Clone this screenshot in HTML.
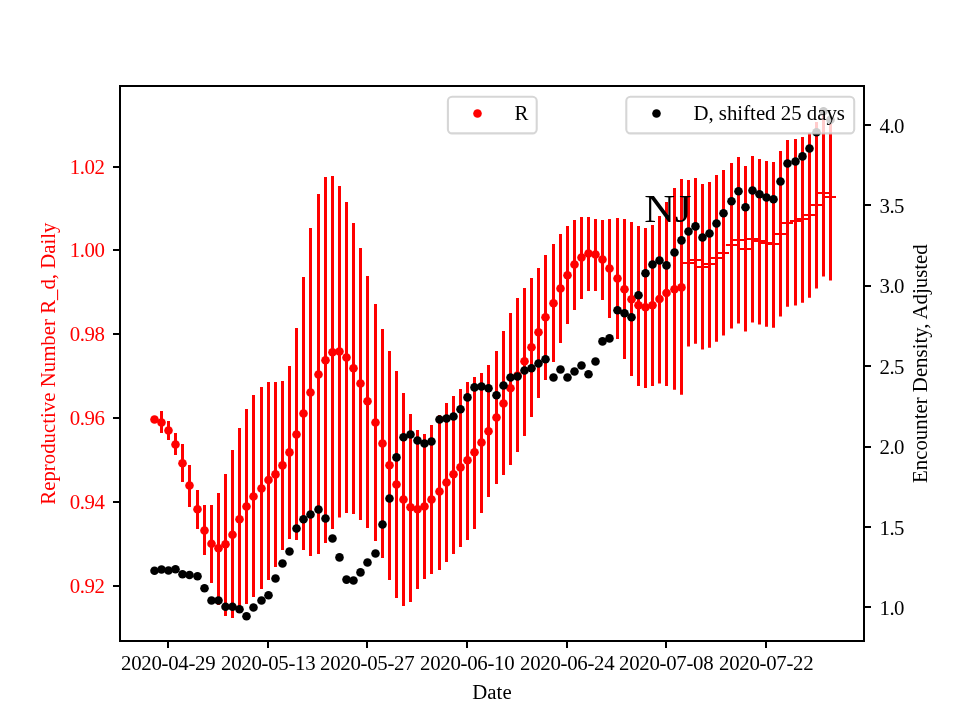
<!DOCTYPE html>
<html><head><meta charset="utf-8"><title>NJ</title>
<style>html,body{margin:0;padding:0;background:#fff}svg{display:block;will-change:transform}text{font-family:"Liberation Serif","DejaVu Serif",serif;font-size:20.83px}</style></head>
<body>
<svg width="960" height="720" viewBox="0 0 960 720">
<rect width="960" height="720" fill="#fff"/>
<path d="M161.50 411.00V433.00M168.50 421.00V440.00M175.50 433.00V455.00M182.50 444.00V482.00M189.50 465.00V507.00M197.50 490.00V529.00M204.50 505.00V555.00M211.50 505.00V583.00M218.50 493.00V605.00M225.50 474.00V616.00M232.50 450.00V618.00M239.50 428.00V612.00M246.50 409.00V604.00M253.50 395.00V597.00M261.50 387.00V589.00M268.50 382.00V580.00M275.50 382.00V567.00M282.50 381.00V550.00M289.50 366.00V539.00M296.50 328.00V540.00M303.50 277.00V550.00M310.50 228.00V556.00M318.50 194.00V554.00M325.50 177.00V543.00M332.50 176.00V529.00M339.50 186.00V517.50M346.50 202.00V513.00M353.50 223.00V514.00M360.50 248.00V520.00M367.50 276.00V528.00M375.50 304.00V541.00M382.50 329.00V558.00M389.50 351.00V580.00M396.50 371.00V598.00M403.50 393.00V606.00M410.50 414.00V602.00M417.50 430.00V589.00M424.50 434.00V579.00M431.50 425.00V574.00M439.50 415.00V570.00M446.50 403.00V562.00M453.50 396.00V554.00M460.50 389.00V547.00M467.50 382.00V540.00M474.50 377.00V529.00M481.50 373.00V513.00M488.50 365.00V497.00M496.50 351.00V484.00M503.50 331.00V475.00M510.50 313.00V465.00M517.50 298.00V452.00M524.50 288.00V436.00M531.50 278.00V417.00M538.50 268.00V398.00M545.50 255.00V380.00M553.50 244.00V362.00M560.50 234.00V343.00M567.50 226.00V324.00M574.50 220.00V310.00M581.50 217.00V299.00M588.50 217.00V291.00M595.50 219.00V291.00M602.50 220.00V300.00M609.50 219.00V318.00M617.50 218.00V339.00M624.50 219.00V359.00M631.50 222.00V376.00M638.50 226.00V386.00M645.50 228.00V388.00M652.50 225.00V386.00M659.50 216.00V383.50M666.50 202.00V386.00M674.50 188.00V389.80M681.50 179.00V394.80M688.50 180.00V346.50M695.50 178.00V343.80M702.50 184.00V349.60M709.50 182.00V347.70M716.50 175.00V341.70M723.50 170.00V335.60M731.50 163.00V328.50M738.50 157.00V323.50M745.50 166.00V331.50M752.50 156.00V322.50M759.50 159.00V324.60M766.50 161.00V326.70M773.50 162.00V327.70M780.50 151.00V316.50M787.50 140.00V306.70M795.50 139.00V305.40M802.50 137.00V302.70M809.50 133.00V297.70M816.50 122.00V288.50M823.50 112.00V276.60M830.50 116.00V280.50" stroke="#f00" stroke-width="3" fill="none"/>
<g fill="#f00">
<circle cx="154.50" cy="419.50" r="4.3"/>
<circle cx="161.50" cy="422.50" r="4.3"/>
<circle cx="168.50" cy="430.50" r="4.3"/>
<circle cx="175.50" cy="444.50" r="4.3"/>
<circle cx="182.50" cy="463.25" r="4.3"/>
<circle cx="189.50" cy="485.50" r="4.3"/>
<circle cx="197.50" cy="509.25" r="4.3"/>
<circle cx="204.50" cy="530.50" r="4.3"/>
<circle cx="211.50" cy="543.75" r="4.3"/>
<circle cx="218.50" cy="548.25" r="4.3"/>
<circle cx="225.50" cy="544.25" r="4.3"/>
<circle cx="232.50" cy="534.75" r="4.3"/>
<circle cx="239.50" cy="519.25" r="4.3"/>
<circle cx="246.50" cy="506.50" r="4.3"/>
<circle cx="253.50" cy="496.50" r="4.3"/>
<circle cx="261.50" cy="488.50" r="4.3"/>
<circle cx="268.50" cy="480.00" r="4.3"/>
<circle cx="275.50" cy="474.40" r="4.3"/>
<circle cx="282.50" cy="465.40" r="4.3"/>
<circle cx="289.50" cy="452.40" r="4.3"/>
<circle cx="296.50" cy="434.50" r="4.3"/>
<circle cx="303.50" cy="413.50" r="4.3"/>
<circle cx="310.50" cy="392.50" r="4.3"/>
<circle cx="318.50" cy="374.50" r="4.3"/>
<circle cx="325.50" cy="360.25" r="4.3"/>
<circle cx="332.50" cy="352.25" r="4.3"/>
<circle cx="339.50" cy="351.50" r="4.3"/>
<circle cx="346.50" cy="357.50" r="4.3"/>
<circle cx="353.50" cy="368.25" r="4.3"/>
<circle cx="360.50" cy="383.50" r="4.3"/>
<circle cx="367.50" cy="401.25" r="4.3"/>
<circle cx="375.50" cy="422.50" r="4.3"/>
<circle cx="382.50" cy="443.50" r="4.3"/>
<circle cx="389.50" cy="465.25" r="4.3"/>
<circle cx="396.50" cy="484.50" r="4.3"/>
<circle cx="403.50" cy="499.50" r="4.3"/>
<circle cx="410.50" cy="507.25" r="4.3"/>
<circle cx="417.50" cy="509.25" r="4.3"/>
<circle cx="424.50" cy="506.50" r="4.3"/>
<circle cx="431.50" cy="499.50" r="4.3"/>
<circle cx="439.50" cy="491.50" r="4.3"/>
<circle cx="446.50" cy="482.50" r="4.3"/>
<circle cx="453.50" cy="474.25" r="4.3"/>
<circle cx="460.50" cy="467.40" r="4.3"/>
<circle cx="467.50" cy="460.30" r="4.3"/>
<circle cx="474.50" cy="452.25" r="4.3"/>
<circle cx="481.50" cy="442.50" r="4.3"/>
<circle cx="488.50" cy="431.25" r="4.3"/>
<circle cx="496.50" cy="417.50" r="4.3"/>
<circle cx="503.50" cy="403.50" r="4.3"/>
<circle cx="510.50" cy="388.25" r="4.3"/>
<circle cx="517.50" cy="375.60" r="4.3"/>
<circle cx="524.50" cy="361.25" r="4.3"/>
<circle cx="531.50" cy="347.25" r="4.3"/>
<circle cx="538.50" cy="332.25" r="4.3"/>
<circle cx="545.50" cy="317.25" r="4.3"/>
<circle cx="553.50" cy="303.25" r="4.3"/>
<circle cx="560.50" cy="288.50" r="4.3"/>
<circle cx="567.50" cy="275.25" r="4.3"/>
<circle cx="574.50" cy="264.50" r="4.3"/>
<circle cx="581.50" cy="257.50" r="4.3"/>
<circle cx="588.50" cy="253.50" r="4.3"/>
<circle cx="595.50" cy="254.50" r="4.3"/>
<circle cx="602.50" cy="259.50" r="4.3"/>
<circle cx="609.50" cy="268.50" r="4.3"/>
<circle cx="617.50" cy="278.50" r="4.3"/>
<circle cx="624.50" cy="289.25" r="4.3"/>
<circle cx="631.50" cy="299.25" r="4.3"/>
<circle cx="638.50" cy="305.25" r="4.3"/>
<circle cx="645.50" cy="307.25" r="4.3"/>
<circle cx="652.50" cy="305.25" r="4.3"/>
<circle cx="659.50" cy="299.00" r="4.3"/>
<circle cx="666.50" cy="293.00" r="4.3"/>
<circle cx="674.50" cy="289.20" r="4.3"/>
<circle cx="681.50" cy="287.40" r="4.3"/>
</g>
<path d="M682.90 263.00H694.00M689.90 260.00H701.00M696.90 267.00H708.00M703.90 264.00H715.00M710.90 258.00H722.00M717.90 253.00H729.00M725.90 245.00H737.00M732.90 240.00H744.00M739.90 249.00H751.00M746.90 239.00H758.00M753.90 241.00H765.00M760.90 243.00H772.00M767.90 244.00H779.00M774.90 234.00H786.00M781.90 223.00H793.00M789.90 221.00H801.00M796.90 219.00H808.00M803.90 215.00H815.00M810.90 205.00H822.00M817.90 193.00H829.00M824.90 197.00H836.00" stroke="#f00" stroke-width="2" fill="none"/>
<path d="M113.00 167.00H120.00M113.00 250.00H120.00M113.00 334.00H120.00M113.00 418.00H120.00M113.00 502.00H120.00M113.00 586.00H120.00M864.00 125.00H871.00M864.00 205.00H871.00M864.00 286.00H871.00M864.00 366.00H871.00M864.00 447.00H871.00M864.00 527.00H871.00M864.00 607.00H871.00M168.00 641.00V648.00M268.00 641.00V648.00M367.00 641.00V648.00M467.00 641.00V648.00M567.00 641.00V648.00M666.00 641.00V648.00M766.00 641.00V648.00" stroke="#000" stroke-width="2" fill="none"/>
<text x="104.30" y="173.80" text-anchor="end" fill="#f00" letter-spacing="-0.5">1.02</text>
<text x="104.30" y="256.80" text-anchor="end" fill="#f00" letter-spacing="-0.5">1.00</text>
<text x="104.30" y="340.80" text-anchor="end" fill="#f00" letter-spacing="-0.5">0.98</text>
<text x="104.30" y="424.80" text-anchor="end" fill="#f00" letter-spacing="-0.5">0.96</text>
<text x="104.30" y="508.80" text-anchor="end" fill="#f00" letter-spacing="-0.5">0.94</text>
<text x="104.30" y="592.80" text-anchor="end" fill="#f00" letter-spacing="-0.5">0.92</text>
<text x="879.50" y="132.90" fill="#000" letter-spacing="-0.5">4.0</text>
<text x="879.50" y="212.90" fill="#000" letter-spacing="-0.5">3.5</text>
<text x="879.50" y="292.90" fill="#000" letter-spacing="-0.5">3.0</text>
<text x="879.50" y="373.90" fill="#000" letter-spacing="-0.5">2.5</text>
<text x="879.50" y="453.90" fill="#000" letter-spacing="-0.5">2.0</text>
<text x="879.50" y="534.90" fill="#000" letter-spacing="-0.5">1.5</text>
<text x="879.50" y="614.90" fill="#000" letter-spacing="-0.5">1.0</text>
<text x="168.20" y="670.40" text-anchor="middle" fill="#000" letter-spacing="-0.28">2020-04-29</text>
<text x="268.20" y="670.40" text-anchor="middle" fill="#000" letter-spacing="-0.28">2020-05-13</text>
<text x="367.20" y="670.40" text-anchor="middle" fill="#000" letter-spacing="-0.28">2020-05-27</text>
<text x="467.20" y="670.40" text-anchor="middle" fill="#000" letter-spacing="-0.28">2020-06-10</text>
<text x="567.20" y="670.40" text-anchor="middle" fill="#000" letter-spacing="-0.28">2020-06-24</text>
<text x="666.20" y="670.40" text-anchor="middle" fill="#000" letter-spacing="-0.28">2020-07-08</text>
<text x="766.20" y="670.40" text-anchor="middle" fill="#000" letter-spacing="-0.28">2020-07-22</text>
<text x="492" y="698.6" text-anchor="middle" fill="#000">Date</text>
<text transform="translate(54.5 363.6) rotate(-90)" text-anchor="middle" fill="#f00">Reproductive Number R_d, Daily</text>
<text transform="translate(927 363.6) rotate(-90)" text-anchor="middle" fill="#000">Encounter Density, Adjusted</text>
<rect x="447.9" y="96.8" width="88.8" height="36.6" rx="4.2" fill="#fff" fill-opacity="0.8" stroke="#ccc" stroke-opacity="0.8" stroke-width="2.08"/>
<circle cx="477.5" cy="113.5" r="4.3" fill="#f00"/>
<text x="514.6" y="120" fill="#000">R</text>
<rect x="120" y="86" width="744" height="555" fill="none" stroke="#000" stroke-width="2"/>
<g fill="#000">
<circle cx="154.50" cy="570.75" r="4.3"/>
<circle cx="161.50" cy="569.50" r="4.3"/>
<circle cx="168.50" cy="570.50" r="4.3"/>
<circle cx="175.50" cy="569.25" r="4.3"/>
<circle cx="182.50" cy="574.25" r="4.3"/>
<circle cx="189.50" cy="575.00" r="4.3"/>
<circle cx="197.50" cy="576.25" r="4.3"/>
<circle cx="204.50" cy="588.25" r="4.3"/>
<circle cx="211.50" cy="600.50" r="4.3"/>
<circle cx="218.50" cy="600.50" r="4.3"/>
<circle cx="225.50" cy="606.75" r="4.3"/>
<circle cx="232.50" cy="606.75" r="4.3"/>
<circle cx="239.50" cy="609.25" r="4.3"/>
<circle cx="246.50" cy="616.25" r="4.3"/>
<circle cx="253.50" cy="607.50" r="4.3"/>
<circle cx="261.50" cy="600.50" r="4.3"/>
<circle cx="268.50" cy="595.25" r="4.3"/>
<circle cx="275.50" cy="578.50" r="4.3"/>
<circle cx="282.50" cy="563.50" r="4.3"/>
<circle cx="289.50" cy="551.50" r="4.3"/>
<circle cx="296.50" cy="528.50" r="4.3"/>
<circle cx="303.50" cy="519.25" r="4.3"/>
<circle cx="310.50" cy="514.50" r="4.3"/>
<circle cx="318.50" cy="509.50" r="4.3"/>
<circle cx="325.50" cy="518.50" r="4.3"/>
<circle cx="332.50" cy="538.50" r="4.3"/>
<circle cx="339.50" cy="557.40" r="4.3"/>
<circle cx="346.50" cy="579.60" r="4.3"/>
<circle cx="353.50" cy="580.50" r="4.3"/>
<circle cx="360.50" cy="572.40" r="4.3"/>
<circle cx="367.50" cy="562.50" r="4.3"/>
<circle cx="375.50" cy="553.50" r="4.3"/>
<circle cx="382.50" cy="524.50" r="4.3"/>
<circle cx="389.50" cy="498.50" r="4.3"/>
<circle cx="396.50" cy="457.40" r="4.3"/>
<circle cx="403.50" cy="437.25" r="4.3"/>
<circle cx="410.50" cy="434.50" r="4.3"/>
<circle cx="417.50" cy="440.50" r="4.3"/>
<circle cx="424.50" cy="443.50" r="4.3"/>
<circle cx="431.50" cy="441.50" r="4.3"/>
<circle cx="439.50" cy="419.50" r="4.3"/>
<circle cx="446.50" cy="418.50" r="4.3"/>
<circle cx="453.50" cy="416.50" r="4.3"/>
<circle cx="460.50" cy="409.25" r="4.3"/>
<circle cx="467.50" cy="397.40" r="4.3"/>
<circle cx="474.50" cy="387.40" r="4.3"/>
<circle cx="481.50" cy="386.50" r="4.3"/>
<circle cx="488.50" cy="388.25" r="4.3"/>
<circle cx="496.50" cy="395.25" r="4.3"/>
<circle cx="503.50" cy="385.50" r="4.3"/>
<circle cx="510.50" cy="377.50" r="4.3"/>
<circle cx="517.50" cy="376.50" r="4.3"/>
<circle cx="524.50" cy="370.50" r="4.3"/>
<circle cx="531.50" cy="368.25" r="4.3"/>
<circle cx="538.50" cy="363.50" r="4.3"/>
<circle cx="545.50" cy="359.20" r="4.3"/>
<circle cx="553.50" cy="377.50" r="4.3"/>
<circle cx="560.50" cy="369.50" r="4.3"/>
<circle cx="567.50" cy="377.50" r="4.3"/>
<circle cx="574.50" cy="371.50" r="4.3"/>
<circle cx="581.50" cy="365.50" r="4.3"/>
<circle cx="588.50" cy="374.25" r="4.3"/>
<circle cx="595.50" cy="361.50" r="4.3"/>
<circle cx="602.50" cy="341.40" r="4.3"/>
<circle cx="609.50" cy="338.40" r="4.3"/>
<circle cx="617.50" cy="310.25" r="4.3"/>
<circle cx="624.50" cy="313.25" r="4.3"/>
<circle cx="631.50" cy="317.25" r="4.3"/>
<circle cx="638.50" cy="295.25" r="4.3"/>
<circle cx="645.50" cy="273.25" r="4.3"/>
<circle cx="652.50" cy="264.50" r="4.3"/>
<circle cx="659.50" cy="260.50" r="4.3"/>
<circle cx="666.50" cy="265.40" r="4.3"/>
<circle cx="674.50" cy="252.50" r="4.3"/>
<circle cx="681.50" cy="240.40" r="4.3"/>
<circle cx="688.50" cy="231.50" r="4.3"/>
<circle cx="695.50" cy="226.40" r="4.3"/>
<circle cx="702.50" cy="237.50" r="4.3"/>
<circle cx="709.50" cy="233.50" r="4.3"/>
<circle cx="716.50" cy="223.50" r="4.3"/>
<circle cx="723.50" cy="213.25" r="4.3"/>
<circle cx="731.50" cy="201.25" r="4.3"/>
<circle cx="738.50" cy="191.25" r="4.3"/>
<circle cx="745.50" cy="207.25" r="4.3"/>
<circle cx="752.50" cy="190.50" r="4.3"/>
<circle cx="759.50" cy="194.25" r="4.3"/>
<circle cx="766.50" cy="197.50" r="4.3"/>
<circle cx="773.50" cy="199.25" r="4.3"/>
<circle cx="780.50" cy="181.50" r="4.3"/>
<circle cx="787.50" cy="163.50" r="4.3"/>
<circle cx="795.50" cy="161.50" r="4.3"/>
<circle cx="802.50" cy="156.40" r="4.3"/>
<circle cx="809.50" cy="148.50" r="4.3"/>
<circle cx="816.50" cy="132.25" r="4.3"/>
<circle cx="823.50" cy="111.25" r="4.3"/>
<circle cx="830.50" cy="119.75" r="4.3"/>
</g>
<text x="644.2" y="221.7" fill="#000" style="font-size:41.1px" textLength="47.4" lengthAdjust="spacingAndGlyphs">NJ</text>
<rect x="626.3" y="96.8" width="227.9" height="36.6" rx="4.2" fill="#fff" fill-opacity="0.8" stroke="#ccc" stroke-opacity="0.8" stroke-width="2.08"/>
<circle cx="656.5" cy="113.5" r="4.3" fill="#000"/>
<text x="693.4" y="120" fill="#000">D, shifted 25 days</text>
<rect x="120" y="86" width="744" height="555" fill="none" stroke="#000" stroke-width="2"/>
</svg>
</body></html>
